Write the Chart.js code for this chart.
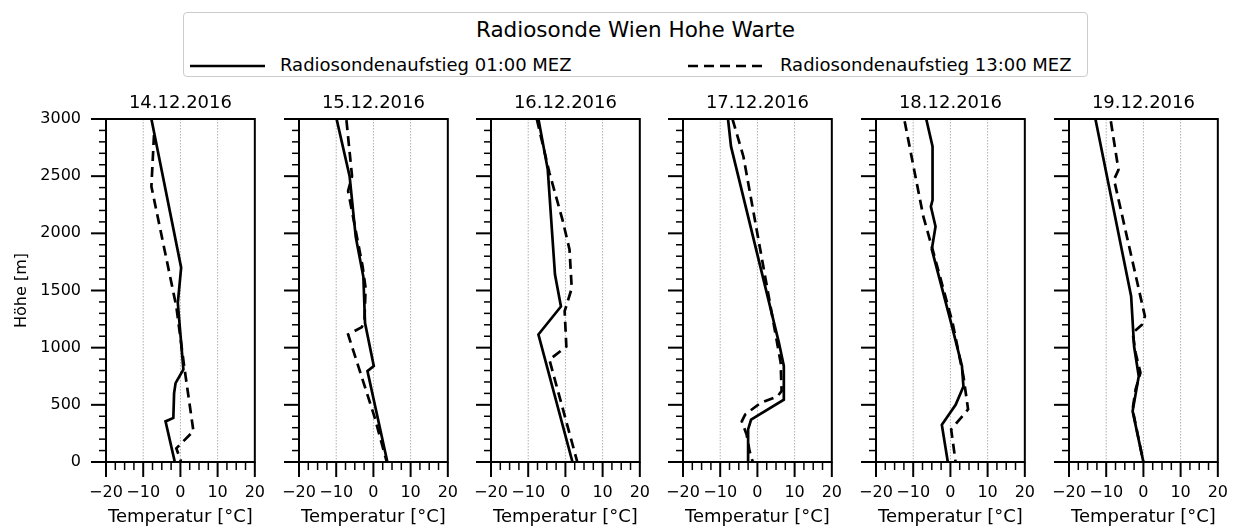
<!DOCTYPE html>
<html>
<head>
<meta charset="utf-8">
<script src="https://cdn.jsdelivr.net/npm/chart.js@4"></script>
<style>
  body { margin: 0; background: #fff; font-family: 'DejaVu Sans', sans-serif; color: #000; }
  #wrap { position: relative; width: 1237px; height: 528px; overflow: hidden; }
  #wrap canvas { position: absolute; top: 0; }
  .legBox { position: absolute; left: 183px; top: 12px; width: 905px; height: 65px; box-sizing: border-box;
            border: 1px solid #cccccc; border-radius: 4px; background: #fff; }
  .legTitle { position: absolute; left: 183px; width: 905px; top: 19px; text-align: center; font-size: 21.5px; line-height: 1; }
  .legText { position: absolute; top: 56px; font-size: 18px; line-height: 1; white-space: nowrap; }
  .legLine { position: absolute; top: 60px; }
</style>
</head>
<body>
<div id="wrap">
  <div class="legBox"></div>
  <div class="legTitle">Radiosonde Wien Hohe Warte</div>
  <svg class="legLine" style="left:190px" width="75" height="12"><line x1="0" y1="6" x2="75" y2="6" stroke="#000" stroke-width="2.7"/></svg>
  <span class="legText" style="left:280px">Radiosondenaufstieg 01:00 MEZ</span>
  <svg class="legLine" style="left:688px" width="75" height="12"><line x1="0" y1="6" x2="75" y2="6" stroke="#000" stroke-width="2.7" stroke-dasharray="10 6"/></svg>
  <span class="legText" style="left:780px">Radiosondenaufstieg 13:00 MEZ</span>
</div>
<script>
// Tage der Aufstiege
const tage = ['14.12.2016', '15.12.2016', '16.12.2016', '17.12.2016', '18.12.2016', '19.12.2016'];

// Aufstieg 01:00 MEZ - Höhe [m] und Temperatur [°C], je Tag eine Liste
const hoehe01 = [
  [3000, 1700, 1390, 810, 690, 600, 385, 355, 0],
  [3000, 2500, 1970, 1620, 1215, 840, 795, 0],
  [3000, 2560, 1640, 1360, 1115, 0],
  [3000, 2760, 1040, 840, 545, 370, 285, 0],
  [3000, 2760, 2290, 2235, 2060, 1860, 1215, 840, 660, 500, 325, 0],
  [3000, 1450, 1010, 750, 445, 0]
];
const temp01 = [
  [-7.8, 0.2, -0.7, 0.8, -1.3, -1.7, -1.9, -4.0, -1.5],
  [-9.9, -6.4, -4.75, -2.7, -2.25, 0.1, -1.6, 3.75],
  [-7.25, -4.75, -2.8, -1.2, -7.25, 1.9],
  [-7.9, -7.1, 5.8, 7.1, 7.1, -1.7, -2.5, -2.5],
  [-6.5, -4.8, -4.8, -5.25, -4.0, -5.0, 0.2, 3.1, 3.5, 1.4, -2.3, -0.7],
  [-12.9, -3.3, -2.5, -1.25, -2.9, 0]
];

// Aufstieg 13:00 MEZ
const hoehe13 = [
  [2860, 2410, 1360, 840, 270, 120, 0],
  [2990, 2500, 2370, 1710, 1520, 1245, 1180, 1115, 400, 0],
  [3000, 2530, 2120, 1860, 1520, 1320, 1010, 895, 0],
  [3000, 2670, 870, 620, 575, 515, 415, 355, 240, 95, 0],
  [2980, 2150, 1860, 1215, 750, 460, 285, 0],
  [2980, 2555, 2470, 1275, 1200, 1130, 955, 780, 635, 460, 195, 0]
];
const temp13 = [
  [-7.1, -7.8, -1.1, 1.0, 3.5, -1.1, 0.2],
  [-7.25, -5.75, -6.8, -2.9, -2.1, -2.4, -3.1, -6.8, 0.25, 3.6],
  [-7.7, -4.3, -0.8, 1.1, 1.7, -0.2, 0.25, -4.3, 3.2],
  [-6.7, -3.75, 6.25, 6.5, 5.4, 0.8, -3.3, -4.2, -2.9, -2.1, -1.25],
  [-12.3, -7.3, -4.8, 0.6, 3.5, 4.75, 0.2, 1.4],
  [-8.75, -6.7, -7.9, 0.4, -0.4, -2.9, -2.1, -0.8, -2.1, -2.9, -1.25, 0]
];

// Achsenbeschriftung
const xTicks = [-20, -10, 0, 10, 20];
const yTicks = [0, 500, 1000, 1500, 2000, 2500, 3000];

// linke Kante der Zeichenflächen
const panelLeft = [106, 299, 491, 683, 876, 1069];

Chart.defaults.font.family = "'DejaVu Sans', sans-serif";
Chart.defaults.color = '#000';

function punkte(temps, hoehen) {
  return hoehen.map((h, i) => ({ x: temps[i], y: h }));
}

// gepunktete Gitterlinien, Rahmen und Striche wie bei matplotlib
const rahmenPlugin = {
  id: 'rahmen',
  beforeDatasetsDraw(chart) {
    const { ctx, chartArea: a, scales: { x } } = chart;
    ctx.save();
    ctx.strokeStyle = '#9a9a9a';
    ctx.lineWidth = 0.8;
    ctx.setLineDash([1.5, 1.5]);
    x.ticks.forEach(t => {
      if (t.value === x.min || t.value === x.max) return;
      const px = x.getPixelForValue(t.value);
      ctx.beginPath();
      ctx.moveTo(px, a.top);
      ctx.lineTo(px, a.bottom);
      ctx.stroke();
    });
    ctx.restore();
  },
  afterDraw(chart) {
    const { ctx, chartArea: a, scales: { x, y } } = chart;
    ctx.save();
    ctx.strokeStyle = '#000';
    ctx.setLineDash([]);
    ctx.lineWidth = 2;
    ctx.strokeRect(a.left, a.top, a.right - a.left, a.bottom - a.top);
    for (let v = x.min; v <= x.max + 0.01; v += 2.5) {
      const major = v % 10 === 0;
      const px = x.getPixelForValue(v);
      ctx.lineWidth = major ? 2 : 1.5;
      ctx.beginPath();
      ctx.moveTo(px, a.bottom);
      ctx.lineTo(px, a.bottom + (major ? 15 : 8));
      ctx.stroke();
    }
    for (let h = y.min; h <= y.max; h += 100) {
      const major = h % 500 === 0;
      const py = y.getPixelForValue(h);
      ctx.lineWidth = major ? 2 : 1.5;
      ctx.beginPath();
      ctx.moveTo(a.left, py);
      ctx.lineTo(a.left - (major ? 15 : 7), py);
      ctx.stroke();
    }
    ctx.restore();
  }
};

const wrap = document.getElementById('wrap');

tage.forEach((tag, i) => {
  const cv = document.createElement('canvas');
  cv.width = 280;
  cv.height = 528;
  cv.style.left = (panelLeft[i] - 100) + 'px';
  wrap.appendChild(cv);

  new Chart(cv, {
    type: 'scatter',
    data: {
      datasets: [
        {
          label: 'Radiosondenaufstieg 01:00 MEZ',
          data: punkte(temp01[i], hoehe01[i]),
          showLine: true,
          borderColor: '#000',
          borderWidth: 2.7,
          pointRadius: 0,
          pointHoverRadius: 0
        },
        {
          label: 'Radiosondenaufstieg 13:00 MEZ',
          data: punkte(temp13[i], hoehe13[i]),
          showLine: true,
          borderColor: '#000',
          borderWidth: 2.7,
          borderDash: [10, 6],
          pointRadius: 0,
          pointHoverRadius: 0
        }
      ]
    },
    options: {
      responsive: false,
      animation: false,
      devicePixelRatio: 1,
      layout: { padding: { left: 0, right: 20, top: 0, bottom: 0 } },
      plugins: {
        legend: { display: false },
        tooltip: { enabled: false },
        title: {
          display: true,
          text: tag,
          fullSize: false,
          color: '#000',
          font: { size: 18, weight: 'normal', lineHeight: 1.2 },
          padding: { top: 93, bottom: 4.4 }
        }
      },
      scales: {
        x: {
          type: 'linear',
          min: -20,
          max: 20,
          afterBuildTicks: s => { s.ticks = xTicks.map(v => ({ value: v })); },
          afterFit: s => { s.height = 66; },
          grid: { display: false, drawTicks: false },
          border: { display: false },
          ticks: {
            autoSkip: false,
            maxRotation: 0,
            padding: 21,
            font: { size: 16 },
            callback: v => (v < 0 ? '\u2212' + (-v) : String(v))
          },
          title: { display: true, text: 'Temperatur [°C]', font: { size: 18 }, padding: { top: 0, bottom: 0 } }
        },
        y: {
          type: 'linear',
          min: 0,
          max: 3000,
          afterBuildTicks: s => { s.ticks = yTicks.map(v => ({ value: v })); },
          afterFit: s => { s.width = 100; },
          grid: { display: false, drawTicks: false },
          border: { display: false },
          ticks: { display: i === 0, padding: 25, font: { size: 16 }, callback: v => String(v) },
          title: { display: i === 0, text: 'Höhe [m]', font: { size: 16 }, padding: { top: 6.4, bottom: 0 } }
        }
      }
    },
    plugins: [rahmenPlugin]
  });
});
</script>
</body>
</html>
